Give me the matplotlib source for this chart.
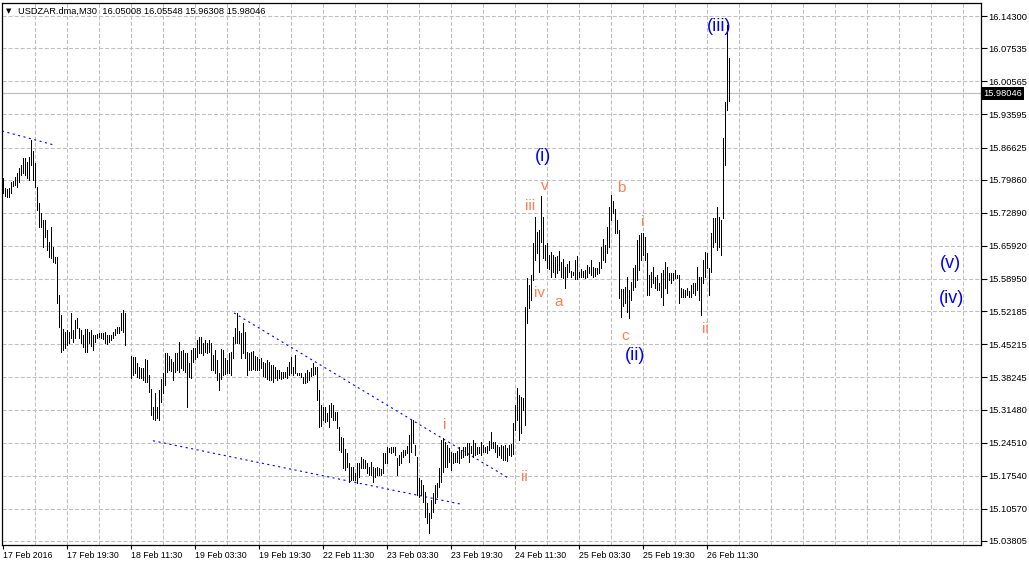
import numpy as np
import matplotlib
matplotlib.use("Agg")
import matplotlib.pyplot as plt
from matplotlib.transforms import blended_transform_factory

nan = float("nan")

# USDZAR M30 bars (high / low), one per 30 minutes
bar_high = [
    15.802, 15.781, 15.779, 15.781, 15.794, 15.796, 15.804, 15.813, 15.823, 15.829,
    15.844, 15.844, 15.836, 15.846, 15.882, 15.859, 15.834, 15.783, 15.749, 15.728,
    15.714, 15.714, 15.693, 15.667, 15.699, 15.657, 15.636, 15.636, 15.556, 15.514,
    15.484, 15.478, 15.482, 15.478, 15.518, 15.482, 15.503, 15.507, 15.486, 15.482,
    15.472, 15.484, 15.484, 15.478, 15.482, 15.472, 15.472, 15.474, 15.476, 15.476,
    15.476, 15.478, 15.472, 15.472, 15.472, 15.478, 15.484, 15.488, 15.488, 15.518,
    15.524,
    15.518, nan, nan,
    15.427, 15.425, 15.425, 15.413, 15.404, 15.402, 15.402, 15.421, 15.419,
    15.387, 15.358, 15.320, 15.350, 15.320, 15.356, 15.379, 15.392, 15.434, 15.434,
    15.427, 15.421, 15.415, 15.434, 15.434, 15.457, 15.438, 15.440, 15.434, 15.434,
    15.413, 15.440, 15.444, 15.444, 15.461, 15.467, 15.467, 15.455, 15.461, 15.455,
    15.461, 15.455, 15.430, 15.440, 15.419, 15.392, 15.442, 15.440, 15.423, 15.419,
    15.434, 15.436, 15.467, 15.486, 15.518, 15.480, 15.476, 15.497, 15.478,
    15.436, 15.434, 15.436, 15.438, 15.427, 15.425, 15.421, 15.423, 15.415, 15.413,
    15.419, 15.415, 15.408, 15.408, 15.404, 15.398, 15.398, 15.394, 15.394, 15.394,
    15.404, 15.415, 15.425, 15.404, 15.430, 15.392, 15.392, 15.392, 15.383, 15.392,
    15.398, 15.394, 15.402, 15.413, 15.404, 15.404, 15.356, 15.324, 15.320, 15.320,
    15.308, 15.324, 15.329, 15.324, 15.310, 15.310, 15.278, 15.257, 15.255, 15.232,
    15.223, 15.202, 15.194, 15.194, 15.181, 15.202, 15.202, 15.215, 15.211,
    15.208, 15.202, 15.194, 15.204, 15.194, 15.192, 15.194, 15.192, 15.190, 15.223,
    15.223, 15.236, 15.234, 15.236, 15.236, 15.236, 15.213, 15.219, 15.225, 15.230,
    15.230, 15.238, 15.261, 15.293, 15.293, 15.240, 15.215, 15.171, 15.166, 15.156,
    15.141, 15.118, 15.097, 15.124, 15.139, 15.156, 15.160, 15.192, 15.251, 15.255,
    15.246, 15.240, 15.234, 15.225, 15.223, 15.223, 15.227, 15.236, 15.230, 15.236,
    15.236, 15.244, 15.244, 15.238, 15.251, 15.244, 15.236, 15.236, 15.246, 15.240,
    15.236, 15.238, 15.248, 15.267, 15.246, 15.246, 15.240, 15.236, 15.240, 15.238,
    15.240, 15.234, 15.240, 15.242, 15.286, 15.324, 15.360, 15.345, 15.341, 15.339,
    15.530, 15.592, 15.577, 15.598, 15.665, 15.720, 15.688, 15.693, 15.764, 15.720,
    15.661, 15.665, 15.640, 15.646, 15.640, 15.636, 15.638, 15.648, 15.625, 15.631,
    15.615, 15.621, 15.627, 15.606, 15.604, 15.629, 15.638, 15.604, 15.611, 15.606,
    15.608, 15.619, 15.615, 15.629, 15.615, 15.613, 15.613, 15.625, 15.657, 15.674,
    15.661, 15.699,
    15.741, 15.766, 15.754, 15.737, 15.714, 15.693, 15.568, 15.568, 15.573, 15.594,
    15.566, 15.583, 15.613, 15.619, 15.671, 15.682, 15.686, 15.686, 15.678, 15.644,
    15.598, 15.604, 15.615, 15.594, 15.598, 15.581, 15.602, 15.608, 15.625, 15.615,
    15.602, 15.602, 15.602, 15.608, 15.598, 15.598, 15.571, 15.568, 15.566, 15.571,
    15.564, 15.577, 15.581, 15.581, 15.615, 15.594, 15.594, 15.629, 15.646, 15.644,
    15.613, 15.686, 15.718, 15.718, 15.741, 15.720, 15.714, 15.886, 15.962, 16.124,
    16.05548,
]

bar_low = [
    15.771, 15.764, 15.762, 15.762, 15.771, 15.785, 15.787, 15.783, 15.794, 15.808,
    15.813, 15.808, 15.802, 15.798, 15.829, 15.798, 15.783, 15.735, 15.699, 15.699,
    15.657, 15.678, 15.651, 15.636, 15.634, 15.625, 15.623, 15.539, 15.489, 15.436,
    15.440, 15.444, 15.451, 15.455, 15.465, 15.457, 15.465, 15.486, 15.465, 15.455,
    15.446, 15.436, 15.436, 15.455, 15.448, 15.440, 15.457, 15.465, 15.467, 15.465,
    15.463, 15.455, 15.453, 15.457, 15.461, 15.465, 15.472, 15.476, 15.476, 15.482,
    15.478,
    15.451, nan, nan,
    15.381, 15.387, 15.392, 15.383, 15.381, 15.381, 15.377, 15.373, 15.373,
    15.352, 15.303, 15.295, 15.293, 15.297, 15.293, 15.331, 15.350, 15.366, 15.394,
    15.398, 15.396, 15.377, 15.394, 15.398, 15.394, 15.402, 15.398, 15.394, 15.320,
    15.383, 15.381, 15.415, 15.421, 15.425, 15.434, 15.434, 15.430, 15.436, 15.434,
    15.436, 15.398, 15.398, 15.392, 15.377, 15.356, 15.379, 15.387, 15.389, 15.392,
    15.392, 15.387, 15.423, 15.455, 15.455, 15.455, 15.423, 15.434, 15.423,
    15.387, 15.398, 15.398, 15.400, 15.398, 15.398, 15.398, 15.402, 15.385, 15.383,
    15.379, 15.377, 15.377, 15.373, 15.381, 15.377, 15.381, 15.379, 15.381, 15.383,
    15.381, 15.387, 15.392, 15.387, 15.392, 15.387, 15.387, 15.383, 15.371, 15.371,
    15.373, 15.377, 15.385, 15.387, 15.389, 15.335, 15.278, 15.280, 15.293, 15.289,
    15.291, 15.278, 15.299, 15.293, 15.293, 15.276, 15.230, 15.225, 15.192, 15.188,
    15.194, 15.162, 15.166, 15.166, 15.166, 15.160, 15.173, 15.192, 15.192,
    15.192, 15.181, 15.177, 15.177, 15.162, 15.173, 15.177, 15.177, 15.177, 15.181,
    15.202, 15.202, 15.225, 15.223, 15.225, 15.219, 15.177, 15.198, 15.202, 15.215,
    15.219, 15.223, 15.204, 15.225, 15.244, 15.219, 15.135, 15.131, 15.135, 15.120,
    15.089, 15.076, 15.055, 15.086, 15.099, 15.118, 15.131, 15.152, 15.162, 15.183,
    15.194, 15.194, 15.204, 15.188, 15.202, 15.204, 15.204, 15.202, 15.213, 15.215,
    15.219, 15.219, 15.204, 15.223, 15.215, 15.219, 15.221, 15.223, 15.219, 15.225,
    15.225, 15.223, 15.230, 15.234, 15.234, 15.225, 15.215, 15.219, 15.213, 15.208,
    15.208, 15.206, 15.219, 15.217, 15.221, 15.272, 15.293, 15.251, 15.265, 15.314,
    15.282, 15.497, 15.528, 15.545, 15.587, 15.629, 15.644, 15.604, 15.667, 15.634,
    15.629, 15.613, 15.611, 15.594, 15.604, 15.594, 15.602, 15.608, 15.594, 15.592,
    15.571, 15.594, 15.604, 15.594, 15.598, 15.589, 15.589, 15.594, 15.594, 15.594,
    15.592, 15.594, 15.602, 15.598, 15.594, 15.596, 15.600, 15.602, 15.613, 15.629,
    15.625, 15.644,
    15.657, 15.714, 15.728, 15.686, 15.686, 15.550, 15.509, 15.533, 15.539, 15.520,
    15.507, 15.545, 15.566, 15.573, 15.587, 15.608, 15.629, 15.640, 15.629, 15.556,
    15.556, 15.573, 15.581, 15.571, 15.566, 15.566, 15.552, 15.535, 15.571, 15.560,
    15.587, 15.581, 15.587, 15.592, 15.592, 15.539, 15.552, 15.552, 15.552, 15.556,
    15.552, 15.552, 15.560, 15.556, 15.566, 15.545, 15.514, 15.581, 15.594, 15.613,
    15.556, 15.604, 15.657, 15.667, 15.650, 15.657, 15.640, 15.718, 15.829, 15.945,
    15.96308,
]

# price scale labels on the right
ytick_vals = [16.14300, 16.07535, 16.00565, 15.93595, 15.86625, 15.79860, 15.72890,
              15.65920, 15.58950, 15.52185, 15.45215, 15.38245, 15.31480, 15.24510,
              15.17540, 15.10570, 15.03805]
ytick_labels = ["%.5f" % v for v in ytick_vals]

# time labels, one every 32 bars
time_labels = ["17 Feb 2016", "17 Feb 19:30", "18 Feb 11:30", "19 Feb 03:30",
               "19 Feb 19:30", "22 Feb 11:30", "23 Feb 03:30", "23 Feb 19:30",
               "24 Feb 11:30", "25 Feb 03:30", "25 Feb 19:30", "26 Feb 11:30"]

last_price = 15.98046
header = "USDZAR.dma,M30  16.05008 16.05548 15.96308 15.98046"

# trend lines (bar index, price)
trend_lines = [
    ((-0.65, 15.901), (25.85, 15.871)),
    ((115.35, 15.518), (252.35, 15.171)),
    ((74.85, 15.249), (228.35, 15.116)),
]

# minor wave labels (bar index, price at baseline)
minor_waves = [
    ("i", 220.5, 15.274), ("ii", 260.7, 15.164), ("iii", 263.6, 15.735),
    ("iv", 268.1, 15.552), ("v", 270.85, 15.777), ("a", 277.85, 15.533),
    ("b", 308.85, 15.773), ("c", 310.85, 15.461), ("i", 319.6, 15.701),
    ("ii", 350.85, 15.476),
]
# major wave labels (bar index, price at centre)
major_waves = [
    ("(i)", 269.85, 15.848), ("(ii)", 316.1, 15.4285), ("(iii)", 357.85, 16.120),
    ("(iv)", 474.1, 15.5485), ("(v)", 473.35, 15.623),
]

plt.rcParams['font.family'] = ['Liberation Sans', 'DejaVu Sans']
plt.rcParams['lines.scale_dashes'] = False

fig = plt.figure(figsize=(10.29, 5.66), dpi=100)
fig.patch.set_facecolor("white")
ax = fig.add_axes([2 / 1029, 21 / 566, 979 / 1029, 542 / 566])
ax.set_xlim(-0.65, 488.85)
ax.set_ylim(15.0296, 16.1704)

# grid
for gx in range(16, 489, 16):
    ax.axvline(gx, color="#C0C0C0", lw=0.75, ls=(0, (2.9, 1.45)), zorder=1)
for gy in ytick_vals:
    ax.axhline(gy, color="#C0C0C0", lw=0.75, ls=(0, (2.9, 1.45)), zorder=1)

# last price line
ax.axhline(last_price, color="#C0C0C0", lw=0.9, zorder=1)

# bars
hi = np.array(bar_high)
lo = np.array(bar_low)
idx = np.arange(len(hi))
ok = ~np.isnan(hi)
ax.vlines(idx[ok], lo[ok], hi[ok], color="black", lw=0.72, zorder=3, antialiased=False)

# trend lines
for (x0, y0), (x1, y1) in trend_lines:
    ax.plot([x0, x1], [y0, y1], color="#0000FF", lw=0.8, ls=(0, (1.5, 2.5)), zorder=2)

# wave labels
for txt, x, y in minor_waves:
    ax.text(x, y, txt, color="#FF7F50", fontsize=11, ha="center", va="baseline", zorder=4)
for txt, x, y in major_waves:
    ax.text(x, y, txt, color="#0000FF", fontsize=13, ha="center", va="center", zorder=4)

# axes
for s in ax.spines.values():
    s.set_color("black")
    s.set_linewidth(0.9)

ax.yaxis.tick_right()
ax.set_yticks(ytick_vals)
ax.set_yticklabels(ytick_labels)
ax.tick_params(axis="y", length=4, width=0.8, pad=1.5, labelsize=6.7, direction="out")

ax.set_xticks(range(0, 32 * len(time_labels), 32))
ax.set_xticklabels(time_labels, ha="left")
ax.tick_params(axis="x", length=3, width=0.8, pad=1, labelsize=6.3, direction="out")

# price box on the scale
trans = blended_transform_factory(ax.transAxes, ax.transData)
ax.text(1.0025, last_price, "%.5f" % last_price, transform=trans, color="white",
        fontsize=6.7, ha="left", va="center", clip_on=False,
        bbox=dict(boxstyle="square,pad=0.2", fc="black", ec="none"))

# header
fig.text(6 / 1029, 1 - 11 / 566, "\u25bc", fontsize=5, va="center", ha="left",
         family=["DejaVu Sans"])
fig.text(18 / 1029, 1 - 11 / 566, header, fontsize=6.7, va="center", ha="left")

fig.savefig("out.png", dpi=100, facecolor="white")
